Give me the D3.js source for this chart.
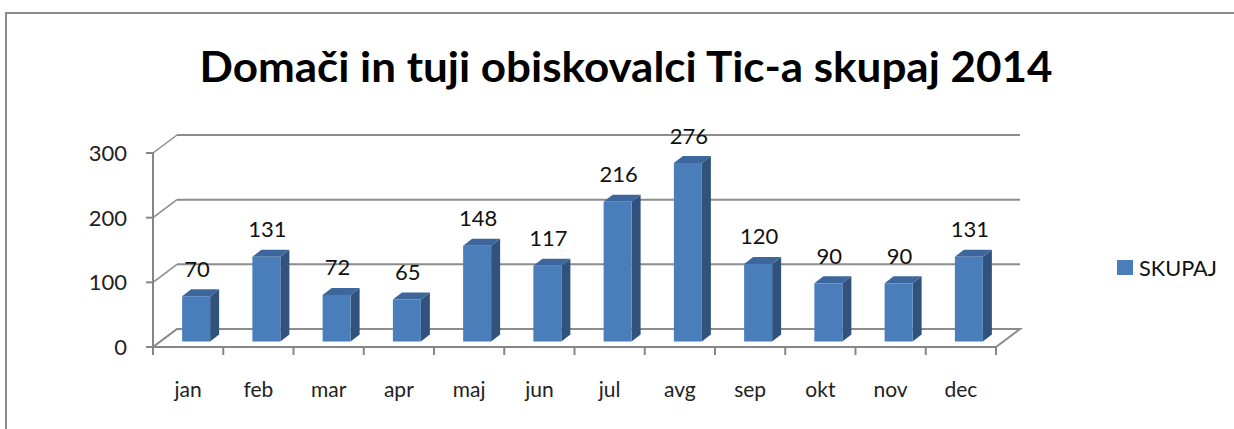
<!DOCTYPE html>
<html>
<head>
<meta charset="utf-8">
<script src="https://cdn.jsdelivr.net/npm/d3@7.9.0/dist/d3.min.js"></script>
<style>
  html, body { margin: 0; padding: 0; background: #fff; overflow: hidden; }
  svg { display: block; font-family: Lato, "Open Sans", sans-serif; }
</style>
</head>
<body>
<svg id="chart" width="1234" height="429"></svg>
<script>
const months = ['jan', 'feb', 'mar', 'apr', 'maj', 'jun', 'jul', 'avg', 'sep', 'okt', 'nov', 'dec'];
const skupaj = [70, 131, 72, 65, 148, 117, 216, 276, 120, 90, 90, 131];
const yTicks = [0, 100, 200, 300];
const seriesName = 'SKUPAJ';
const title = 'Domači in tuji obiskovalci Tic-a skupaj 2014';

const svg = d3.select('#chart');

// outer frame: only left and top edges are in view
svg.append('path')
   .attr('d', 'M6,429L6,13L1234,13')
   .attr('fill', 'none')
   .attr('stroke', '#8a8a8a')
   .attr('stroke-width', 2);

const x = d3.scaleBand().domain(months).range([153, 996]);
const y = d3.scaleLinear().domain([0, 300]).range([347, 153]);

// depth of the wall, offset of bar faces, bar thickness
const wall = { dx: 24, dy: -18 };
const barOff = { dx: 8, dy: -5.5 };
const barDepth = { dx: 9, dy: -7 };
const barW = 28;
const grid = '#8c8c8c';

// floor
const [x0, x1] = x.range();
svg.append('path')
   .attr('d', `M${x0},${y(0)}L${x1},${y(0)}L${x1 + wall.dx},${y(0) + wall.dy}L${x0 + wall.dx},${y(0) + wall.dy}Z`)
   .attr('fill', '#fff')
   .attr('stroke', grid)
   .attr('stroke-width', 2);

// back wall gridlines + left diagonals
yTicks.forEach(t => {
    svg.append('line')
       .attr('x1', x0 + wall.dx).attr('x2', x1 + wall.dx)
       .attr('y1', y(t) + wall.dy).attr('y2', y(t) + wall.dy)
       .attr('stroke', grid).attr('stroke-width', 2);
    svg.append('line')
       .attr('x1', x0).attr('x2', x0 + wall.dx)
       .attr('y1', y(t)).attr('y2', y(t) + wall.dy)
       .attr('stroke', grid).attr('stroke-width', 1.5);
});

// front axes
svg.append('line')
   .attr('x1', x0).attr('x2', x0)
   .attr('y1', y(300)).attr('y2', y(0))
   .attr('stroke', '#868686').attr('stroke-width', 2);
svg.append('line')
   .attr('x1', x0).attr('x2', x1)
   .attr('y1', y(0)).attr('y2', y(0))
   .attr('stroke', '#868686').attr('stroke-width', 2);

yTicks.forEach(t => {
    svg.append('line')
       .attr('x1', x0 - 7).attr('x2', x0)
       .attr('y1', y(t)).attr('y2', y(t))
       .attr('stroke', '#868686').attr('stroke-width', 2);
    svg.append('text')
       .attr('x', 127).attr('y', y(t))
       .attr('dy', '0.36em')
       .attr('text-anchor', 'end')
       .attr('font-size', 22)
       .attr('fill', '#222')
       .text(t);
});

months.forEach((m, i) => {
    const tx = x0 + i * x.step();
    svg.append('line')
       .attr('x1', tx).attr('x2', tx)
       .attr('y1', y(0)).attr('y2', y(0) + 8)
       .attr('stroke', '#868686').attr('stroke-width', 2);
});
svg.append('line')
   .attr('x1', x1).attr('x2', x1)
   .attr('y1', y(0)).attr('y2', y(0) + 8)
   .attr('stroke', '#868686').attr('stroke-width', 2);

months.forEach(m => {
    svg.append('text')
       .attr('x', x(m) + x.bandwidth() / 2)
       .attr('y', 397)
       .attr('text-anchor', 'middle')
       .attr('font-size', 21)
       .attr('fill', '#222')
       .text(m);
});

// bars
const bars = svg.append('g');
months.forEach((m, i) => {
    const v = skupaj[i];
    const cx = x(m) + x.bandwidth() / 2 + barOff.dx;
    const l = cx - barW / 2, r = cx + barW / 2;
    const b = y(0) + barOff.dy, t = y(v) + barOff.dy;
    const g = bars.append('g');
    // side
    g.append('path')
     .attr('d', `M${r},${b}L${r + barDepth.dx},${b + barDepth.dy}L${r + barDepth.dx},${t + barDepth.dy}L${r},${t}Z`)
     .attr('fill', '#30527c');
    // top
    g.append('path')
     .attr('d', `M${l},${t}L${r},${t}L${r + barDepth.dx},${t + barDepth.dy}L${l + barDepth.dx},${t + barDepth.dy}Z`)
     .attr('fill', '#3d679c');
    // front
    g.append('rect')
     .attr('x', l).attr('y', t)
     .attr('width', barW).attr('height', b - t)
     .attr('fill', '#4a7ebb');
    // value label
    svg.append('text')
       .attr('x', cx + 1)
       .attr('y', t - 19.5)
       .attr('text-anchor', 'middle')
       .attr('font-size', 22)
       .attr('fill', '#111')
       .text(v);
});

// title
svg.append('text')
   .attr('x', 626).attr('y', 82)
   .attr('text-anchor', 'middle')
   .attr('font-size', 42)
   .attr('font-weight', 'bold')
   .attr('fill', '#000')
   .attr('textLength', 853)
   .attr('lengthAdjust', 'spacingAndGlyphs')
   .text(title);

// legend
svg.append('rect')
   .attr('x', 1117).attr('y', 260)
   .attr('width', 16).attr('height', 15)
   .attr('fill', '#4a7ebb');
svg.append('text')
   .attr('x', 1139).attr('y', 275.5)
   .attr('font-size', 22)
   .attr('fill', '#111')
   .attr('textLength', 78)
   .attr('lengthAdjust', 'spacingAndGlyphs')
   .text(seriesName);
</script>
</body>
</html>
